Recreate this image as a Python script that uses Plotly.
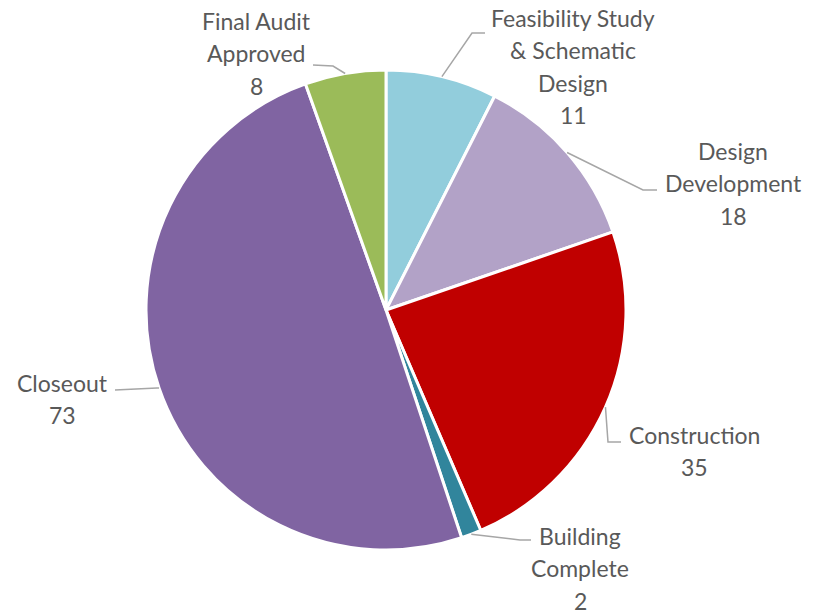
import math
import plotly.graph_objects as go

W, H = 821, 613

stages = ['Feasibility Study & Schematic Design', 'Design Development', 'Construction',
          'Building Complete', 'Closeout', 'Final Audit Approved']
counts = [11, 18, 35, 2, 73, 8]
label_lines = [['Feasibility Study', '& Schematic', 'Design'],
               ['Design', 'Development'],
               ['Construction'],
               ['Building', 'Complete'],
               ['Closeout'],
               ['Final Audit', 'Approved']]
colors = ['#92CDDC', '#B2A2C7', '#C00000', '#31859C', '#8064A2', '#9BBB59']

# pie geometry in pixels
cx, cy, r = 386, 310, 240
# label layout: elbow point, line end, text centre x, first text row y
label_pos = [
    ((472, 33), (485, 33), 573, 18),
    ((643, 190), (657, 190), 733, 151),
    ((608, 442), (621, 442), 694, 435),
    ((520, 540), (531, 540), 580, 536),
    ((157, 388), (115, 390), 63, 383),
    ((333, 66), (313, 65), 256, 21),
]
row_gap = 32.3


def px(x):
    return x / W


def py(y):
    return 1 - y / H


fig = go.Figure(go.Pie(
    labels=stages, values=counts, sort=False, direction='clockwise', rotation=0,
    marker=dict(colors=colors, line=dict(color='white', width=3)),
    textinfo='none', hoverinfo='label+value',
    domain=dict(x=[px(cx - r), px(cx + r)], y=[py(cy + r), py(cy - r)]),
))

total = sum(counts)
cum = 0
shapes, annotations = [], []
for lines, val, (elbow, end, tx, ty) in zip(label_lines, counts, label_pos):
    mid = (cum + val / 2) / total * 2 * math.pi
    cum += val
    ex, ey = cx + r * math.sin(mid), cy - r * math.cos(mid)
    path = f'M {px(ex)},{py(ey)} L {px(elbow[0])},{py(elbow[1])} L {px(end[0])},{py(end[1])}'
    shapes.append(dict(type='path', path=path, xref='paper', yref='paper',
                       line=dict(color='#A6A6A6', width=1.5)))
    for i, t in enumerate(lines + [str(val)]):
        annotations.append(dict(x=px(tx), y=py(ty + i * row_gap), xref='paper', yref='paper',
                                text=t, showarrow=False, xanchor='center', yanchor='middle',
                                font=dict(family='Lato', size=23, color='#595959')))

fig.update_layout(width=W, height=H, margin=dict(l=0, r=0, t=0, b=0),
                  paper_bgcolor='white', showlegend=False,
                  shapes=shapes, annotations=annotations)
fig.write_html('out.html', config={'displayModeBar': False},
               post_script="document.body.style.margin='0';")
